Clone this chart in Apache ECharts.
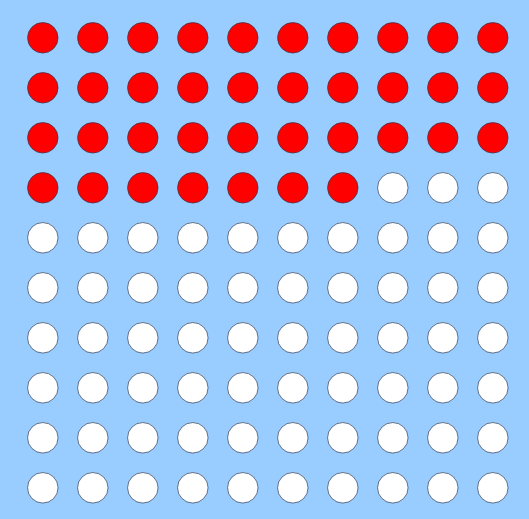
<!DOCTYPE html>
<html>
<head>
<meta charset="utf-8">
<script src="https://cdn.jsdelivr.net/npm/echarts@6/dist/echarts.min.js"></script>
<style>
html,body{margin:0;padding:0;background:#99ccff;}
#c{width:529px;height:519px;}
</style>
</head>
<body>
<div id="c"></div>
<script>
// Waffle chart data
const categories = ['Filled', 'Empty'];
const values = [37, 63];
const colors = ['#ff0000', '#ffffff'];
const gridCols = 10;
const gridRows = 10;

// Build cell list (row-major, filled first)
const cells = [];
let idx = 0;
for (let c = 0; c < categories.length; c++) {
  for (let k = 0; k < values[c]; k++) {
    const row = Math.floor(idx / gridCols);
    const col = idx % gridCols;
    cells.push({ value: [col, row], itemStyle: { color: colors[c] } });
    idx++;
  }
}

const chart = echarts.init(document.getElementById('c'));
chart.setOption({
  backgroundColor: '#99ccff',
  animation: false,
  grid: { left: 17.8, width: 500, top: 12.8, height: 500 },
  xAxis: { type: 'value', min: -0.5, max: gridCols - 0.5, show: false },
  yAxis: { type: 'value', min: -0.5, max: gridRows - 0.5, inverse: true, show: false },
  series: [{
    type: 'scatter',
    symbol: 'circle',
    symbolSize: 30.5,
    data: cells,
    itemStyle: { borderColor: '#2a3a55', borderWidth: 0.7, opacity: 1 }
  }]
});
</script>
</body>
</html>
